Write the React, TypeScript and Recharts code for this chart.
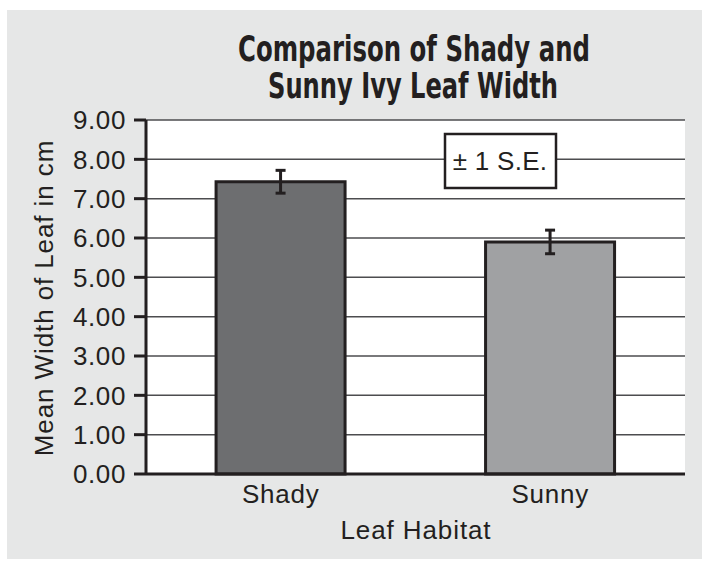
import React from "react";
import { BarChart, Bar, Cell, XAxis, YAxis, CartesianGrid, ErrorBar } from "recharts";

const habitats = ["Shady", "Sunny"];
const meanWidth = [7.43, 5.9];
const stdError = [0.29, 0.3];
const yTicks = [0, 1, 2, 3, 4, 5, 6, 7, 8, 9];

const FILLS = ["#6d6e70", "#a0a1a3"];
const INK = "#231f20";
const FONT = "'Liberation Sans', Arial, Helvetica, sans-serif";
const TITLE_FONT = "'Liberation Sans Narrow', 'DejaVu Sans Condensed', 'Liberation Sans', sans-serif";

const rows = habitats.map((h, i) => ({ habitat: h, mean: meanWidth[i], se: stdError[i] }));

export default function App() {
    return (
        <div style={{ position: "absolute", left: 0, top: 0, width: 702, height: 561, background: "#fff" }}>
            <div style={{ position: "absolute", left: 7, top: 10, width: 695, height: 549, background: "#e6e7e7" }} />
            <div style={{ position: "absolute", left: 0, top: 0 }}>
                <BarChart
                    width={702}
                    height={561}
                    data={rows}
                    margin={{ top: 120, right: 17, bottom: 0, left: 0 }}
                    barCategoryGap="26%"
                >
                    <CartesianGrid vertical={false} stroke="#4d4d4f" strokeWidth={1.5} fill="#ffffff" />
                    <XAxis
                        dataKey="habitat"
                        height={87}
                        tickLine={false}
                        tickSize={0}
                        tickMargin={11}
                        axisLine={{ stroke: INK, strokeWidth: 3 }}
                        tick={{ fill: INK, fontSize: 26, fontFamily: FONT, letterSpacing: 0.8 }}
                    />
                    <YAxis
                        width={146}
                        domain={[0, 9]}
                        ticks={yTicks}
                        interval={0}
                        tickSize={12}
                        tickMargin={8}
                        tickFormatter={(v: number) => v.toFixed(2)}
                        axisLine={{ stroke: INK, strokeWidth: 3 }}
                        tickLine={{ stroke: INK, strokeWidth: 3 }}
                        tick={{ fill: INK, fontSize: 26, fontFamily: FONT, letterSpacing: 0.6 }}
                    />
                    <Bar dataKey="mean" stroke={INK} strokeWidth={3} isAnimationActive={false}>
                        {rows.map((_, i) => (
                            <Cell key={i} fill={FILLS[i]} />
                        ))}
                        <ErrorBar dataKey="se" direction="y" width={5} stroke={INK} strokeWidth={3} />
                    </Bar>
                </BarChart>
            </div>
            <svg width={702} height={561} style={{ position: "absolute", left: 0, top: 0, pointerEvents: "none" }}>
                <text x={414} y={61} textAnchor="middle" fontFamily={TITLE_FONT} fontWeight="bold" fontSize={35}
                    fill={INK} textLength={352} lengthAdjust="spacingAndGlyphs">
                    Comparison of Shady and
                </text>
                <text x={413} y={98} textAnchor="middle" fontFamily={TITLE_FONT} fontWeight="bold" fontSize={35}
                    fill={INK} textLength={290} lengthAdjust="spacingAndGlyphs">
                    Sunny Ivy Leaf Width
                </text>
                <text x={53} y={298} transform="rotate(-90 53 298)" textAnchor="middle" fontFamily={FONT}
                    fontSize={26} fill={INK} letterSpacing={0.9}>
                    Mean Width of Leaf in cm
                </text>
                <text x={416} y={539} textAnchor="middle" fontFamily={FONT} fontSize={26} fill={INK} letterSpacing={0.9}>
                    Leaf Habitat
                </text>
                <rect x={445} y={134} width={111} height={54} fill="#fff" stroke={INK} strokeWidth={2.5} />
                <text x={500} y={170} textAnchor="middle" fontFamily={FONT} fontSize={26} fill={INK} letterSpacing={0.3}>
                    ± 1 S.E.
                </text>
            </svg>
        </div>
    );
}
